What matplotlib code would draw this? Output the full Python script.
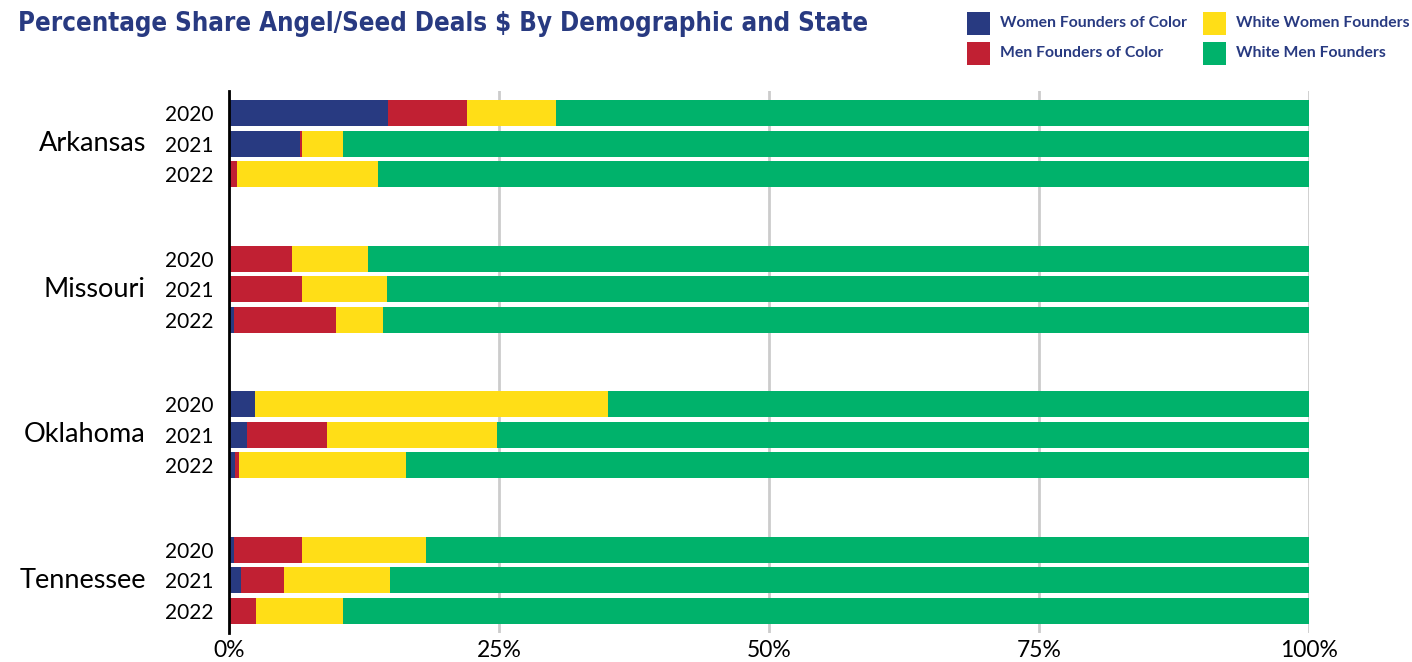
import matplotlib.pyplot as plt
import matplotlib.patches as patches
from matplotlib.ticker import FuncFormatter

# data (percent of angel/seed deal $)
states = ["Arkansas", "Missouri", "Oklahoma", "Tennessee"]
years = ["2020", "2021", "2022"]
women_color = [14.75, 6.6, 0.0, 0.0, 0.0, 0.5, 2.4, 1.7, 0.6, 0.5, 1.1, 0.0]
men_color = [7.25, 0.2, 0.7, 5.8, 6.8, 9.4, 0.0, 7.4, 0.3, 6.3, 4.0, 2.5]
white_women = [8.3, 3.8, 13.1, 7.1, 7.8, 4.4, 32.7, 15.7, 15.5, 11.4, 9.8, 8.1]
white_men = [69.7, 89.4, 86.2, 87.1, 85.4, 85.7, 64.9, 75.2, 83.6, 81.8, 85.1, 89.4]
series_names = ["Women Founders of Color", "Men Founders of Color",
                "White Women Founders", "White Men Founders"]
colors = ["#283a81", "#c12033", "#ffde17", "#00b26b"]
navy = "#283a81"

fig = plt.figure(figsize=(14.12, 6.62), dpi=100)
ax = fig.add_axes([229 / 1412, 1 - 633 / 662, 1080 / 1412, 542 / 662])

# y positions: groups of 3 bars
group_step = 4.75
ypos = []
for g in range(len(states)):
    for i in range(len(years)):
        ypos.append(g * group_step + i)

left = [0.0] * len(ypos)
for vals, col in zip([women_color, men_color, white_women, white_men], colors):
    ax.barh(ypos, vals, left=left, height=0.85, color=col, zorder=3)
    left = [l + v for l, v in zip(left, vals)]

ax.set_xlim(0, 100)
ax.set_ylim(ypos[-1] + 0.72, ypos[0] - 0.72)
ax.set_xticks([0, 25, 50, 75, 100])
ax.xaxis.set_major_formatter(FuncFormatter(lambda v, p: f"{int(v)}%"))
ax.grid(axis="x", color="#cccccc", linewidth=2, zorder=0)
ax.tick_params(axis="x", length=0, pad=5, labelsize=16.5)
for lab in ax.get_xticklabels():
    lab.set_fontfamily("Lato")

ax.set_yticks(ypos)
ax.set_yticklabels(years * len(states), fontfamily="Lato", fontsize=15)
ax.tick_params(axis="y", length=0, pad=11)

for s in ["top", "right", "bottom"]:
    ax.spines[s].set_visible(False)
ax.spines["left"].set_linewidth(2)
ax.spines["left"].set_zorder(5)

# state labels
for g, st in enumerate(states):
    ax.text(-0.077, g * group_step + 1, st, transform=ax.get_yaxis_transform(),
            ha="right", va="center", fontsize=19.5, fontfamily="Lato")

# title
fig.text(18 / 1412, 1 - 24 / 662, "Percentage Share Angel/Seed Deals $ By Demographic and State",
         fontsize=18.5, fontweight="bold", color=navy, va="center", ha="left",
         family="DejaVu Sans", fontstretch="condensed")

# legend
leg_pos = [(967, 12), (967, 42), (1203, 12), (1203, 42)]
for (px, py), name, col in zip(leg_pos, series_names, colors):
    fig.patches.append(patches.Rectangle((px / 1412, 1 - (py + 23) / 662), 23 / 1412, 23 / 662,
                                         transform=fig.transFigure, facecolor=col, edgecolor="none"))
    fig.text((px + 33) / 1412, 1 - (py + 11) / 662, name, fontsize=11.3, fontweight="bold",
             color=navy, va="center", ha="left", fontfamily="Lato")

plt.savefig("out.png", dpi=100)
